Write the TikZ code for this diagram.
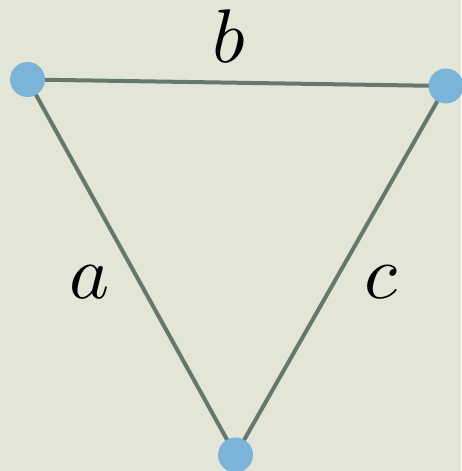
\documentclass[tikz,border=0pt]{standalone}
\definecolor{bgcol}{HTML}{E3E5D6}
\definecolor{edgecol}{HTML}{66786D}
\definecolor{dotcol}{HTML}{7BB4D8}
\begin{document}
\begin{tikzpicture}[x=1pt,y=-1pt,
  dot/.style={circle,fill=dotcol,minimum size=35pt,inner sep=0pt},
  edge/.style={draw=edgecol,line width=4pt},
  lbl/.style={anchor=base,inner sep=0pt,scale=7.6}]
\fill[bgcol] (0,0) rectangle (461,471);
\useasboundingbox (0,0) rectangle (461,471);
\coordinate (A) at (27.5,79.5);
\coordinate (B) at (446,86);
\coordinate (C) at (235.5,455);
\draw[edge] (A) -- (B);
\draw[edge] (A) -- (C);
\draw[edge] (B) -- (C);
\node[dot] (nA) at (A) {};
\node[dot] (nB) at (B) {};
\node[dot] (nC) at (C) {};
\node[lbl] (lb) at (229,62) {$b$};
\node[lbl] (la) at (89.5,298) {$a$};
\node[lbl] (lc) at (381,298) {$c$};
\end{tikzpicture}
\end{document}
